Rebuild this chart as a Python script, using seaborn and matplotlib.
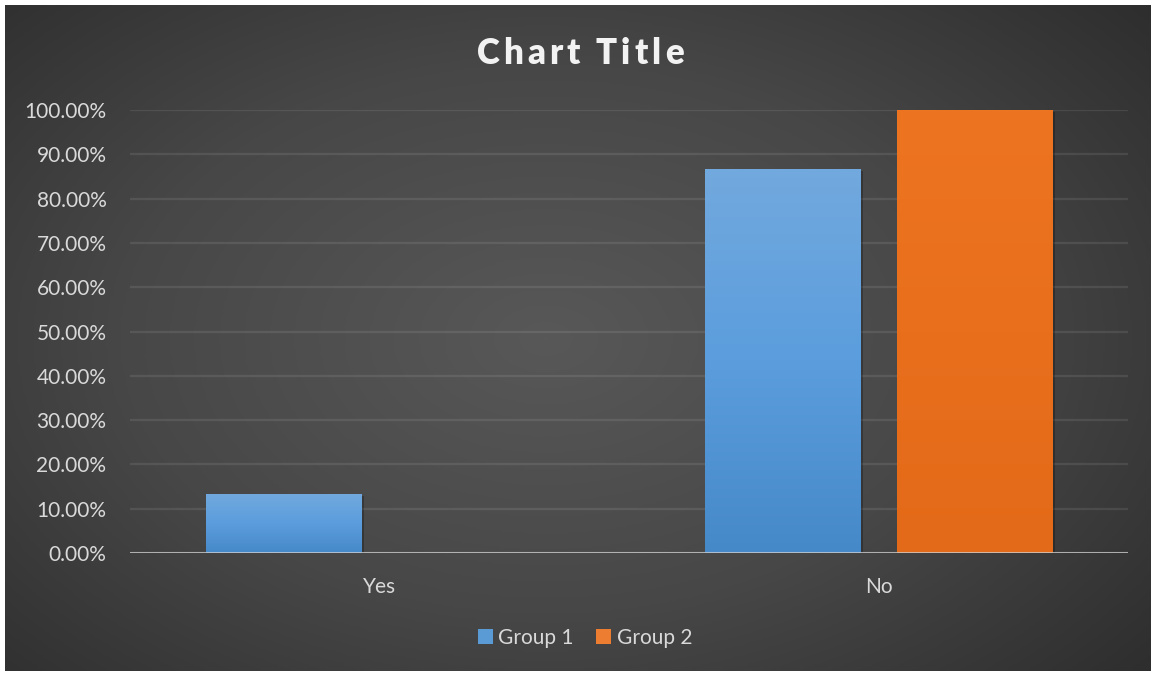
import numpy as np
import pandas as pd
import matplotlib
matplotlib.use("Agg")
import matplotlib.pyplot as plt
import seaborn as sns
from matplotlib.colors import LinearSegmentedColormap
from matplotlib.ticker import FuncFormatter
from matplotlib.patches import Patch

# ---- data ----
categories = ["Yes", "No"]
groups = ["Group 1", "Group 2"]
group1_values = [0.1333, 0.8667]
group2_values = [0.0, 1.0]
title_text = "Chart Title"

df = pd.DataFrame({
    "answer": categories * 2,
    "group": [groups[0]] * 2 + [groups[1]] * 2,
    "value": group1_values + group2_values,
})

sns.set_theme(style="white")
plt.rcParams["font.family"] = ["Lato", "DejaVu Sans"]

W, H = 1154, 674
fig = plt.figure(figsize=(W / 100, H / 100), dpi=100, facecolor="white")

# background radial gradient panel (white border around it)
bg = fig.add_axes([5 / W, 3 / H, (W - 8) / W, (H - 8) / H], zorder=-10)
bg.set_axis_off()
yy, xx = np.mgrid[0:400, 0:700]
cx, cy = 330, 200
r = np.sqrt(((xx - cx) / 520.0) ** 2 + ((yy - cy) / 330.0) ** 2)
r = np.clip(r, 0, 1)
bg_cmap = LinearSegmentedColormap.from_list("bg", ["#585858", "#474747", "#2a2a2a"])
bg.imshow(r, cmap=bg_cmap, aspect="auto", extent=[0, 1, 0, 1], vmin=0, vmax=1)
bg.set_xlim(0, 1)
bg.set_ylim(0, 1)

ax = fig.add_axes([130 / W, (H - 553) / H, (1128 - 130) / W, (553 - 110) / H])
ax.patch.set_alpha(0)

palette = {"Group 1": "#5b9bd5", "Group 2": "#ed7d31"}
sns.barplot(data=df, x="answer", y="value", hue="group", order=categories,
            hue_order=groups, palette=palette, width=0.77, gap=0.19,
            ax=ax, legend=False, saturation=1, zorder=3, linewidth=0,
            edgecolor="none")

# gradient fill for bars
grad_maps = {
    "Group 1": LinearSegmentedColormap.from_list("g1", ["#4689c9", "#5b9ddd", "#72a9de"]),
    "Group 2": LinearSegmentedColormap.from_list("g2", ["#e36a18", "#e96f1d", "#ed7421"]),
}
grad = np.linspace(0, 1, 256).reshape(-1, 1)
for cont, g in zip(ax.containers, groups):
    for p in cont:
        p.set_linewidth(0)
        p.set_edgecolor("none")
        x0, y0 = p.get_x(), p.get_y()
        w, h = p.get_width(), p.get_height()
        if h <= 0:
            continue
        # soft shadow
        ax.add_patch(plt.Rectangle((x0 + 0.006, y0), w, h - 0.004, color="black",
                                   alpha=0.25, zorder=2.5, lw=0))
        im = ax.imshow(grad, cmap=grad_maps[g], origin="lower", aspect="auto",
                       extent=[x0, x0 + w, y0, y0 + h], zorder=3.5)
        im.set_clip_path(p)

ax.set_xlim(-0.5, 1.5)
ax.set_ylim(0, 1)
ax.set_yticks(np.arange(0, 1.01, 0.1))
ax.yaxis.set_major_formatter(FuncFormatter(lambda v, _: f"{v * 100:.2f}%"))
ax.grid(axis="y", color="white", alpha=0.09, lw=1.6, zorder=0)
ax.grid(axis="x", visible=False)
ax.set_axisbelow(True)
for s in ax.spines.values():
    s.set_visible(False)
ax.axhline(0, color="#d0d0d0", alpha=0.75, lw=2.2, zorder=6)
ax.tick_params(axis="both", length=0, pad=17, labelsize=15, labelcolor="#d9d9d9")
ax.set_xlabel("")
ax.set_ylabel("")

# legend
handles = [Patch(facecolor=palette[g], edgecolor="none") for g in groups]
fig.legend(handles, groups, loc="center", bbox_to_anchor=(585 / W, 1 - 638 / H),
           ncol=2, frameon=False, fontsize=15, labelcolor="#d9d9d9",
           handlelength=0.72, handleheight=0.72, handletextpad=0.25,
           columnspacing=1.1, borderpad=0)

# title with letter spacing
fig.canvas.draw()
renderer = fig.canvas.get_renderer()
tprops = dict(fontsize=25, fontweight="heavy", color="#f2f2f2")

def text_width(s):
    t = fig.text(0, 0, s, **tprops)
    wdt = t.get_window_extent(renderer).width
    t.remove()
    return wdt

spacing = 4.0
advances = []
for ch in title_text:
    if ch == " ":
        advances.append(text_width("a a") - text_width("aa"))
    else:
        advances.append(text_width(ch))
total = sum(advances) + spacing * (len(title_text) - 1)
x = 580 - total / 2
ty = 1 - 54 / H
for ch, a in zip(title_text, advances):
    if ch != " ":
        fig.text(x / W, ty, ch, ha="left", va="center", **tprops)
    x += a + spacing

fig.savefig("out.png", dpi=100, facecolor="white")
